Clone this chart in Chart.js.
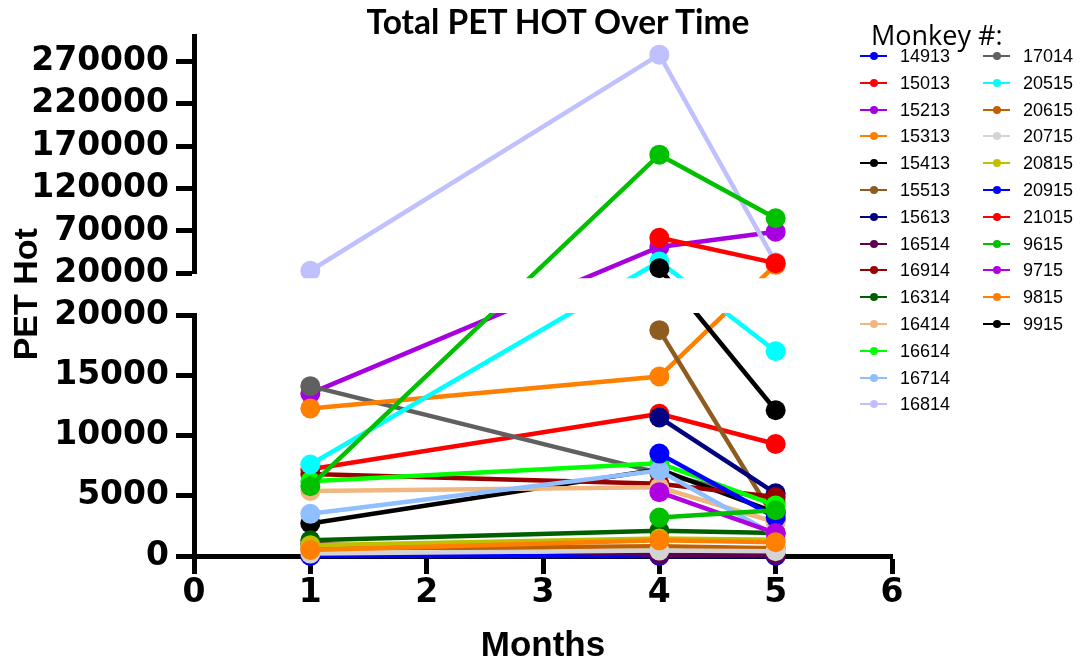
<!DOCTYPE html>
<html>
<head>
<meta charset="utf-8">
<title>Total PET HOT Over Time</title>
<script src="https://cdn.jsdelivr.net/npm/chart.js@4.4.0/dist/chart.umd.min.js"></script>
<style>
  html, body { margin: 0; padding: 0; background: #fff; }
  #wrap { position: relative; width: 1081px; height: 668px; overflow: hidden; }
  #chart { position: absolute; left: 0; top: 0; }
  #title { position: absolute; left: 358px; width: 400px; top: 1px; line-height: 34px;
           text-align: center; font: bold 33.5px Lato, sans-serif; color: #000; white-space: nowrap; }
  #legendHead { position: absolute; left: 871px; top: 16px; line-height: 32px;
                font: 27px "Open Sans", sans-serif; color: #000; white-space: nowrap; }
  .item { position: absolute; height: 20px; width: 120px; }
  .item .ln { position: absolute; left: 0; top: 9px; width: 27px; height: 2px; }
  .item .dot { position: absolute; left: 9.5px; top: 6px; width: 8px; height: 8px; border-radius: 50%; }
  .item .tx { position: absolute; left: 40px; top: 0; line-height: 20px;
              font: 18px "Liberation Sans", Arial, sans-serif; color: #000; }
</style>
</head>
<body>
<div id="wrap">
  <canvas id="chart" width="1081" height="668"></canvas>
  <div id="title">Total PET HOT Over Time</div>
  <div id="legendHead">Monkey #:</div>
  <div id="legend"></div>
</div>
<script>
// months where PET was measured
const months = [1, 4, 5];

const monkeyIds = ['14913', '15013', '15213', '15313', '15413', '15513', '15613', '16514', '16914', '16314',
                   '16414', '16614', '16714', '16814', '17014', '20515', '20615', '20715', '20815', '20915',
                   '21015', '9615', '9715', '9815', '9915'];
const monkeyColors = ['#0000FF', '#FF0000', '#A600E0', '#FF8000', '#000000', '#8E5C1E', '#000080', '#600050', '#990000', '#006000',
                      '#F0B880', '#00FF00', '#8FBFFF', '#C0C0FF', '#606060', '#00FFFF', '#C06000', '#D3D3D3', '#C0C000', '#0000FF',
                      '#FF0000', '#00C000', '#B000E0', '#FF8000', '#000000'];

// PET hot values per month (null = no measurement)
const petMonth1 = [0, 7200, 13500, 12250, 2700, null, null, 1000, 6800, 1300,
                   5400, 6200, 3500, 23000, 14100, 7600, 600, 200, 900, null,
                   null, 5800, null, 500, null];
const petMonth4 = [0, 11800, 51000, 14900, 7200, 18750, 11500, 100, 6000, 2100,
                   5700, 7700, 7100, 278000, 6900, 34000, 800, 450, 1450, 8500,
                   62000, 160000, 5300, 1300, 26000];
const petMonth5 = [0, 9300, 69000, 30000, 3600, 3000, 5200, 100, 4900, 1900,
                   2800, 4200, 1700, 33000, 4500, 17000, 650, 400, 1350, 3200,
                   32000, 85000, 1900, 1150, 12100];
// green series seen on the plot with no matching legend entry
const unlabeledGreen = [null, 3200, 3800];

const xTicks = [0, 1, 2, 3, 4, 5, 6];
const lowTicks = [0, 5000, 10000, 15000, 20000];
const highTicks = [20000, 70000, 120000, 170000, 220000, 270000];
const breakValue = 20000;

// y scale that hands each value to the lower or upper segment of the broken axis
class BrokenScale extends Chart.LinearScale {
    getPixelForValue(value) {
        const s = this.chart.scales;
        return value > breakValue ? s.yHigh.getPixelForValue(value) : s.yLow.getPixelForValue(value);
    }
}
BrokenScale.id = 'broken';
BrokenScale.defaults = {};
Chart.register(BrokenScale);

// hide the lines where they cross the gap between the two segments
const gapClip = {
    id: 'gapClip',
    beforeDatasetsDraw(chart) {
        const { ctx, scales } = chart;
        ctx.save();
        ctx.beginPath();
        ctx.rect(0, 0, chart.width, scales.yHigh.bottom + 5);
        ctx.rect(0, scales.yLow.top - 2, chart.width, chart.height);
        ctx.clip();
    },
    afterDatasetsDraw(chart) {
        chart.ctx.restore();
    }
};

function makeDataset(label, color, values, i) {
    return {
        label: label,
        data: months.map((m, k) => ({ x: m, y: values[k] })),
        borderColor: color,
        backgroundColor: color,
        pointBackgroundColor: color,
        pointBorderColor: color,
        borderWidth: 4.5,
        pointRadius: 10,
        pointBorderWidth: 0,
        pointHoverRadius: 10,
        yAxisID: 'y',
        // later series on top, except 17014 which sits just above 15213
        order: label === '17014' ? -2.5 : -i
    };
}

const datasets = monkeyIds.map((id, i) =>
    makeDataset(id, monkeyColors[i], [petMonth1[i], petMonth4[i], petMonth5[i]], i));
datasets.push(makeDataset('', '#00C000', unlabeledGreen, monkeyIds.length));

const tickFont = { family: '"DejaVu Sans", sans-serif', weight: 'bold', size: 33 };
const axisGrid = { drawOnChartArea: false, tickLength: 18, tickWidth: 5, tickColor: '#000' };
const axisBorder = { width: 5, color: '#000' };

function fixLeft(s) {
    s.width = 194;
    s.paddingTop = 0;
    s.paddingBottom = 0;
}

const chart = new Chart(document.getElementById('chart'), {
    type: 'line',
    data: { datasets: datasets },
    options: {
        responsive: false,
        animation: false,
        layout: { padding: { top: 36, right: 189, bottom: 0, left: 0 } },
        plugins: {
            legend: { display: false },
            tooltip: { enabled: false }
        },
        scales: {
            x: {
                type: 'linear',
                position: 'bottom',
                min: 0,
                max: 6,
                afterBuildTicks: s => { s.ticks = xTicks.map(v => ({ value: v })); },
                afterFit: s => { s.height = 112; s.paddingLeft = 0; s.paddingRight = 0; },
                border: axisBorder,
                grid: axisGrid,
                ticks: { font: tickFont, color: '#000', padding: 0, autoSkip: false },
                title: {
                    display: true,
                    text: 'Months',
                    color: '#000',
                    font: { family: '"Liberation Sans", Arial, sans-serif', weight: 'bold', size: 35 },
                    padding: { top: 0, bottom: 1 }
                }
            },
            yHigh: {
                type: 'linear',
                position: 'left',
                stack: 'petHot',
                stackWeight: 236.9,
                weight: 3,
                min: 20000,
                max: 300000,
                afterBuildTicks: s => { s.ticks = highTicks.map(v => ({ value: v })); },
                afterFit: fixLeft,
                border: axisBorder,
                grid: axisGrid,
                ticks: { font: tickFont, color: '#000', padding: 7, autoSkip: false, callback: v => String(v) }
            },
            yGap: {
                type: 'linear',
                position: 'left',
                stack: 'petHot',
                stackWeight: 41.7,
                weight: 2,
                afterFit: fixLeft,
                border: { display: false },
                grid: { display: false },
                ticks: { display: false },
                title: {
                    display: true,
                    text: 'PET Hot',
                    color: '#000',
                    font: { family: '"Liberation Sans", Arial, sans-serif', weight: 'bold', size: 34 },
                    padding: { top: 7, bottom: 0 }
                }
            },
            yLow: {
                type: 'linear',
                position: 'left',
                stack: 'petHot',
                stackWeight: 240.5,
                weight: 1,
                min: 0,
                max: 20000,
                afterBuildTicks: s => { s.ticks = lowTicks.map(v => ({ value: v })); },
                afterFit: fixLeft,
                border: axisBorder,
                grid: axisGrid,
                ticks: { font: tickFont, color: '#000', padding: 7, autoSkip: false, callback: v => String(v) }
            },
            y: {
                type: 'broken',
                display: false
            }
        }
    },
    plugins: [gapClip]
});

// legend in two columns
const legendBox = document.getElementById('legend');
monkeyIds.forEach((id, i) => {
    const col = Math.floor(i / 14);
    const row = i % 14;
    const item = document.createElement('div');
    item.className = 'item';
    item.style.left = (860 + col * 123) + 'px';
    item.style.top = (46 + row * 26.8) + 'px';
    item.innerHTML = `<span class="ln" style="background:${monkeyColors[i]}"></span>` +
        `<span class="dot" style="background:${monkeyColors[i]}"></span>` +
        `<span class="tx">${id}</span>`;
    legendBox.appendChild(item);
});
</script>
</body>
</html>
